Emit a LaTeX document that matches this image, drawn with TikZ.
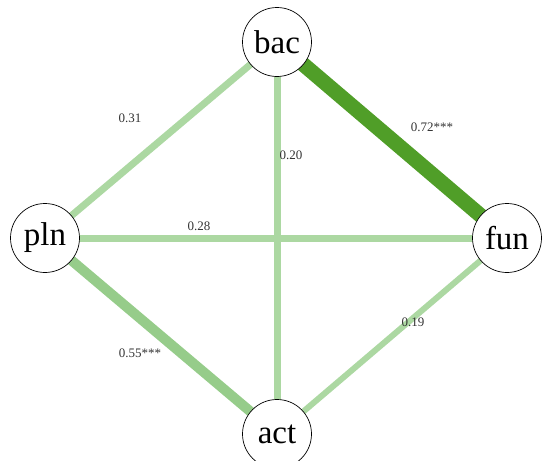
\documentclass[tikz,border=0pt]{standalone}
\usepackage{fontspec}
\setmainfont{Liberation Serif}
\begin{document}
\begin{tikzpicture}[x=1pt,y=-1pt,
  vnode/.style={circle,draw=black,line width=0.7pt,fill=white,minimum size=69pt,inner sep=0pt,font=\fontsize{33}{35}\selectfont},
  elab/.style={font=\fontsize{13}{15}\selectfont,text=black!80},
  weak/.style={draw=lightg,line width=7pt},
]
\definecolor{lightg}{RGB}{172,216,162}
\definecolor{midg}{RGB}{150,204,138}
\definecolor{darkg}{RGB}{80,158,40}
\useasboundingbox (0,0) rectangle (542,461);
\coordinate (cbac) at (277,42);
\coordinate (cpln) at (45,238);
\coordinate (cfun) at (507,238);
\coordinate (cact) at (277,434);
\draw[weak] (cpln) -- (cbac);
\draw[weak] (cbac) -- (cact);
\draw[weak] (cpln) -- (cfun);
\draw[weak,line width=6pt] (cact) -- (cfun);
\draw[draw=midg,line width=10pt] (cpln) -- (cact);
\draw[draw=darkg,line width=15pt] (cbac) -- (cfun);
\node[vnode] (bac) at (cbac) {bac};
\node[vnode] (pln) at (cpln) {pln};
\node[vnode] (fun) at (cfun) {fun};
\node[vnode] (act) at (cact) {act};
\node[elab] (l1) at (130,118) {0.31};
\node[elab] (l2) at (291,155) {0.20};
\node[elab] (l3) at (432,127) {0.72***};
\node[elab] (l4) at (199,226) {0.28};
\node[elab] (l5) at (140,353) {0.55***};
\node[elab] (l6) at (413,322) {0.19};
\end{tikzpicture}
\end{document}
